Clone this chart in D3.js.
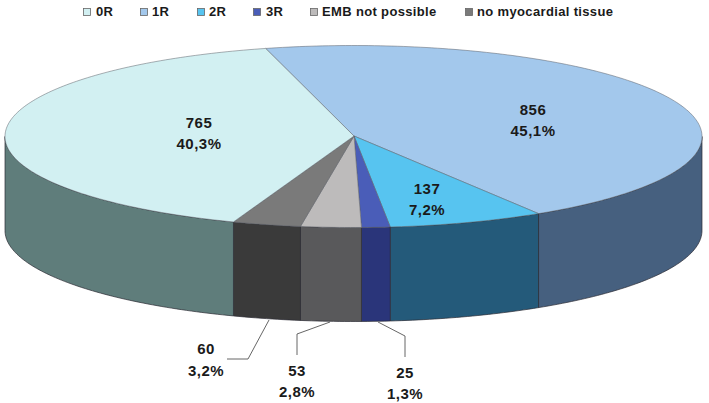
<!DOCTYPE html>
<html><head><meta charset="utf-8"><script src="https://cdn.jsdelivr.net/npm/d3@7"></script>
<style>html,body{margin:0;background:#fff}svg{display:block}text{font-family:"Liberation Sans",Arial,sans-serif;font-weight:bold;fill:#1a1a1a}</style></head>
<body><div id="c"></div><script>
const categories=["1R","2R","3R","EMB not possible","no myocardial tissue","0R"];
const counts=[856,137,25,53,60,765];
const percents=["45,1%","7,2%","1,3%","2,8%","3,2%","40,3%"];
const topColors=["#a3c8ec","#57c4f0","#4a5db8","#bdbbbb","#7a7a7a","#d2f0f2"];
const sideColors=["#46607f","#245a7a","#2a357a","#59595b","#3a3a3a","#5f7d7b"];
const legendOrder=["0R","1R","2R","3R","EMB not possible","no myocardial tissue"];
const legendX=[83,140,197,253,310,465];
const legendTextX=[96,152,209,266,322,477];
const W=709,H=403;
const cx=353.5,cy=136.5,rx=348.5,ry=91,depth=94;
const sx=d3.scaleLinear().domain([-1,1]).range([cx-rx,cx+rx]);
const sy=d3.scaleLinear().domain([-1,1]).range([cy-ry,cy+ry]);
const svg=d3.select("#c").append("svg").attr("width",W).attr("height",H);
const start=-14.6*Math.PI/180;
const pie=d3.pie().sort(null).startAngle(start).endAngle(start+2*Math.PI);
const arcs=pie(counts);
const pt=a=>[sx(Math.sin(a)),sy(-Math.cos(a))];
const arcPts=(a0,a1)=>{const n=Math.max(2,Math.ceil((a1-a0)*60));return d3.range(n+1).map(i=>pt(a0+(a1-a0)*i/n));};
const line=d3.line();
const lo=Math.PI/2,hi=3*Math.PI/2;
const sides=svg.append("g");
arcs.forEach((d,i)=>{
  const s=Math.max(d.startAngle,lo),e=Math.min(d.endAngle,hi);
  if(e<=s)return;
  const top=arcPts(s,e);
  const bot=top.map(p=>[p[0],p[1]+depth]).reverse();
  sides.append("path").attr("d",line(top.concat(bot))+"Z")
    .attr("fill",sideColors[i]).attr("stroke","#2b2b33").attr("stroke-width",0.7).attr("stroke-linejoin","round");
});
const tops=svg.append("g");
arcs.forEach((d,i)=>{
  const pts=[[354,136]].concat(arcPts(d.startAngle,d.endAngle));
  tops.append("path").attr("d",line(pts)+"Z").attr("fill",topColors[i])
    .attr("stroke","#5a5f66").attr("stroke-width",0.5).attr("stroke-linejoin","round");
});
const leaderData={2:[[378,322],[405,336],[405,357]],3:[[330,322],[297,334],[297,355]],4:[[269,320],[248,359],[227,359]]};
Object.entries(leaderData).forEach(([i,p])=>{
  svg.append("path").attr("d",line(p)).attr("fill","none").attr("stroke","#555").attr("stroke-width",0.9);
});
const labelPos=[[533,109,130],[427,188,209],[405,372,393],[297,370,391],[206,348,370],[199,122,143]];
const labels=svg.append("g").attr("text-anchor","middle").style("font-size","15px").style("letter-spacing","0.5px");
counts.forEach((v,i)=>{
  labels.append("text").attr("x",labelPos[i][0]).attr("y",labelPos[i][1]+5.5).text(v);
  labels.append("text").attr("x",labelPos[i][0]).attr("y",labelPos[i][2]+5.5).text(percents[i]);
});
const lg=svg.append("g");
legendOrder.forEach((c,i)=>{
  const k=categories.indexOf(c);
  lg.append("rect").attr("x",legendX[i]+.5).attr("y",8.5).attr("width",7).attr("height",7)
    .attr("fill",topColors[k]).attr("stroke","#666").attr("stroke-width",.8);
  lg.append("text").attr("x",legendTextX[i]).attr("y",16).style("font-size","13px").style("letter-spacing","0.35px").text(c);
});
</script></body></html>
